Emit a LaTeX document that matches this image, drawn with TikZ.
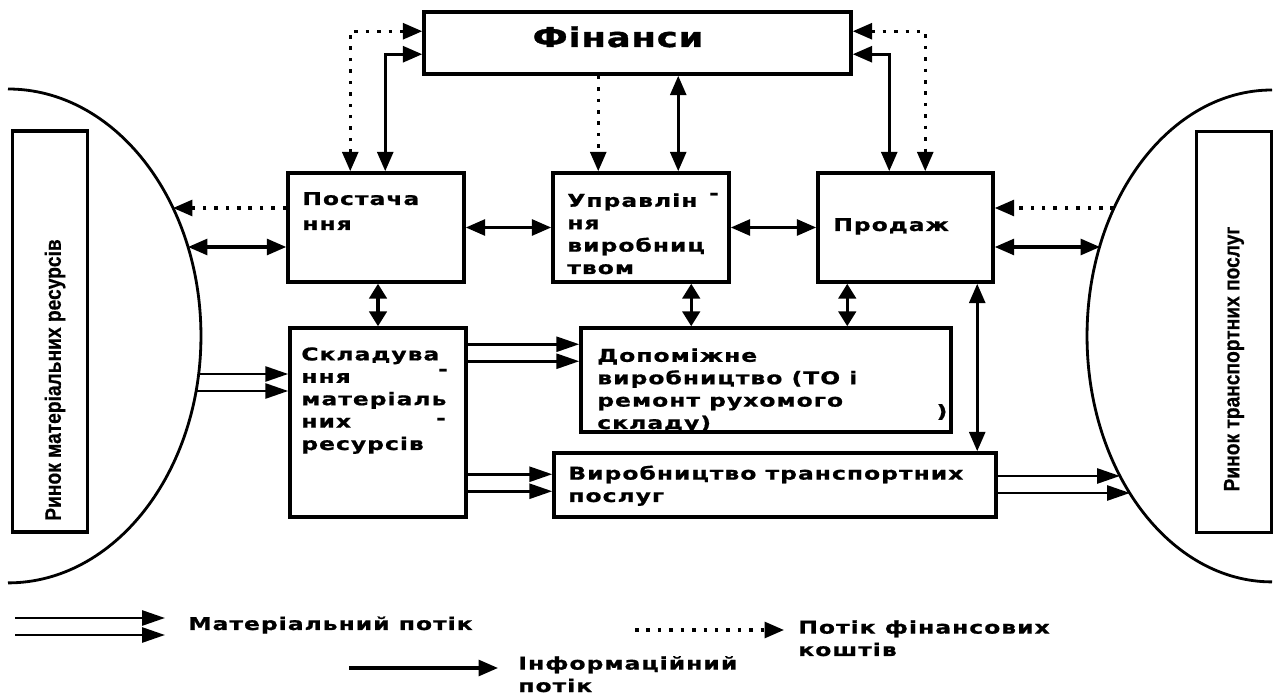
\documentclass[tikz,border=0pt]{standalone}
\usepackage{fontspec}
\setmainfont{DejaVu Sans}
\newfontfamily\boxfont{DejaVu Sans}[FakeStretch=1.33,LetterSpace=6,FakeBold=1]
\newfontfamily\titlefont{DejaVu Sans}[FakeStretch=1.3,LetterSpace=3,FakeBold=1.2]
\newfontfamily\mktfont{Liberation Sans}[FakeStretch=0.86,FakeBold=0.6]
\usetikzlibrary{arrows.meta,positioning}

\begin{document}
\begin{tikzpicture}[x=0.02cm, y=-0.02cm, >={Triangle[length=11pt,width=9pt]},
blk/.style={draw, line width=2pt, inner sep=0pt},
unit/.style={blk, minimum width=3.52cm, minimum height=2.18cm},
mkt/.style={blk, minimum width=1.5cm, minimum height=8.02cm},
txt/.style={anchor=base west, align=left, inner sep=0pt, font=\boxfont\bfseries\fontsize{10}{12.75}\selectfont},
titletxt/.style={anchor=base, inner sep=0pt, font=\titlefont\bfseries\fontsize{15.5}{18}\selectfont},
mkttxt/.style={rotate=90, inner sep=0pt, font=\mktfont\bfseries\fontsize{12.7}{14}\selectfont},
stray/.style={inner sep=0pt, font=\boxfont\bfseries\fontsize{10}{12}\selectfont},
inf/.style={draw, line width=1.8pt},
short/.style={inf, >={Triangle[length=8.5pt,width=10pt]}},
dotarr/.style={draw, line width=1.8pt, dash pattern=on 2pt off 4.5pt},
mat/.style={draw, ->, line width=1.5pt, >={Triangle[length=13pt,width=8.5pt]}}]
\useasboundingbox (0,0) rectangle (1275,695);
% markets
\draw[line width=1.6pt] (8,89) arc[start angle=90, end angle=-90, x radius=3.86cm, y radius=4.94cm];
\draw[line width=1.6pt] (1272,90) arc[start angle=90, end angle=270, x radius=3.7cm, y radius=4.92cm];
\node[mkt] (matmkt) at (50,331.5) {};
\node[mkttxt] (matmkttxt) at (55,380) {Ринок матеріальних ресурсів};
\node[mkt] (trmkt) at (1234,332) {};
\node[mkttxt] (trmkttxt) at (1234,359) {Ринок транспортних послуг};
% units
\node[blk, minimum width=8.54cm, minimum height=1.24cm] (fin) at (637.5,43) {};
\node[titletxt] (fintxt) at (618,47) {Фінанси};
\node[unit] (supply) at (376,227.5) {};
\node[unit] (mgmt) at (641,227.5) {};
\node[unit, minimum width=3.5cm] (sales) at (905.5,227.5) {};
\node[blk, minimum width=3.52cm, minimum height=3.78cm] (store) at (378,422.5) {};
\node[blk, minimum width=7.4cm, minimum height=2.08cm] (aux) at (766,380) {};
\node[blk, minimum width=8.84cm, minimum height=1.28cm] (transp) at (775,485) {};
\node[txt] (supplytxt) at (302,230) {Постача\\[1.5pt]ння};
\node[txt] (mgmttxt) at (567,274) {Управлін\\ня\\виробниц\\твом};
\node[txt] (salestxt) at (833,231) {Продаж};
\node[txt] (storetxt) at (301,450) {Складува\\ння\\матеріаль\\них\\ресурсів};
\node[txt] (auxtxt) at (597,429) {Допоміжне\\виробництво (ТО і\\ремонт рухомого\\складу)};
\node[txt] (transptxt) at (568,502) {Виробництво транспортних\\послуг};
\node[stray] (s1) at (714,196) {-}; \node[stray] (s2) at (443,372) {-}; \node[stray] (s3) at (441,421) {-}; \node[stray] (s4) at (942,412) {)};
% flows
\coordinate (l1) at (173,208); \coordinate (l2) at (188,247); \coordinate (l3) at (199,374); \coordinate (l4) at (196,391);
\coordinate (r1) at (1114,208); \coordinate (r2) at (1100,247); \coordinate (r3) at (1120,476); \coordinate (r4) at (1130,493);
\draw[dotarr,<->] ([xshift=1.28cm]supply.north west) |- ([yshift=-0.42cm]fin.north west);
\draw[inf,<->] ([xshift=1.98cm]supply.north west) |- ([yshift=-0.88cm]fin.north west);
\coordinate (m1) at ([xshift=0.94cm]mgmt.north west); \coordinate (m2) at ([xshift=2.54cm]mgmt.north west);
\draw[dotarr,->] (fin.south -| m1) -- (m1); \draw[inf,<->] (fin.south -| m2) -- (m2);
\draw[dotarr,<->] ([yshift=-0.42cm]fin.north east) -| ([xshift=2.18cm]sales.north west);
\draw[inf,<->] ([yshift=-0.88cm]fin.north east) -| ([xshift=1.46cm]sales.north west);
\draw[inf,<->] (supply) -- (mgmt); \draw[inf,<->] (mgmt) -- (sales);
\draw[dotarr,->] (supply.west |- l1) -- (l1); \draw[inf,<->] (supply.west |- l2) -- (l2);
\draw[dotarr,->] (r1) -- (sales.east |- r1); \draw[inf,<->] (sales.east |- r2) -- (r2);
\draw[short,<->] (supply.south -| store.north) -- (store.north);
\coordinate (m3) at ([xshift=2.8cm]mgmt.south west); \draw[short,<->] (m3) -- (aux.north -| m3);
\coordinate (p3) at ([xshift=0.62cm]sales.south west); \draw[short,<->] (p3) -- (aux.north -| p3);
\coordinate (p4) at ([xshift=3.22cm]sales.south west); \draw[inf,<->] (p4) -- (transp.north -| p4);
\draw[mat] (l3) -- (store.west |- l3); \draw[mat] (l4) -- (store.west |- l4);
\coordinate (a1) at ([yshift=-0.36cm]aux.north west); \coordinate (a2) at ([yshift=-0.7cm]aux.north west);
\draw[mat] (store.east |- a1) -- (a1); \draw[mat] (store.east |- a2) -- (a2);
\coordinate (t1) at ([yshift=-0.46cm]transp.north west); \coordinate (t2) at ([yshift=-0.8cm]transp.north west);
\draw[mat] (store.east |- t1) -- (t1); \draw[mat] (store.east |- t2) -- (t2);
\draw[mat] (transp.east |- r3) -- (r3); \draw[mat] (transp.east |- r4) -- (r4);
% legend
\coordinate (lm1) at (15,618); \coordinate (lm2) at (165,618); \coordinate (lm3) at (15,635); \coordinate (lm4) at (165,635);
\draw[mat] (lm1) -- (lm2); \draw[mat] (lm3) -- (lm4);
\node[txt] (lgmat) at (188,630) {Матеріальний потік};
\coordinate (li1) at (349,668); \coordinate (li2) at (498,668);
\draw[inf,->] (li1) -- (li2);
\node[txt] (lginf) at (518,692) {Інформаційний\\потік};
\coordinate (lf1) at (635,630); \coordinate (lf2) at (784,630);
\draw[dotarr,->] (lf1) -- (lf2);
\node[txt] (lgfin) at (798,656) {Потік фінансових\\коштів};
\end{tikzpicture}
\end{document}
